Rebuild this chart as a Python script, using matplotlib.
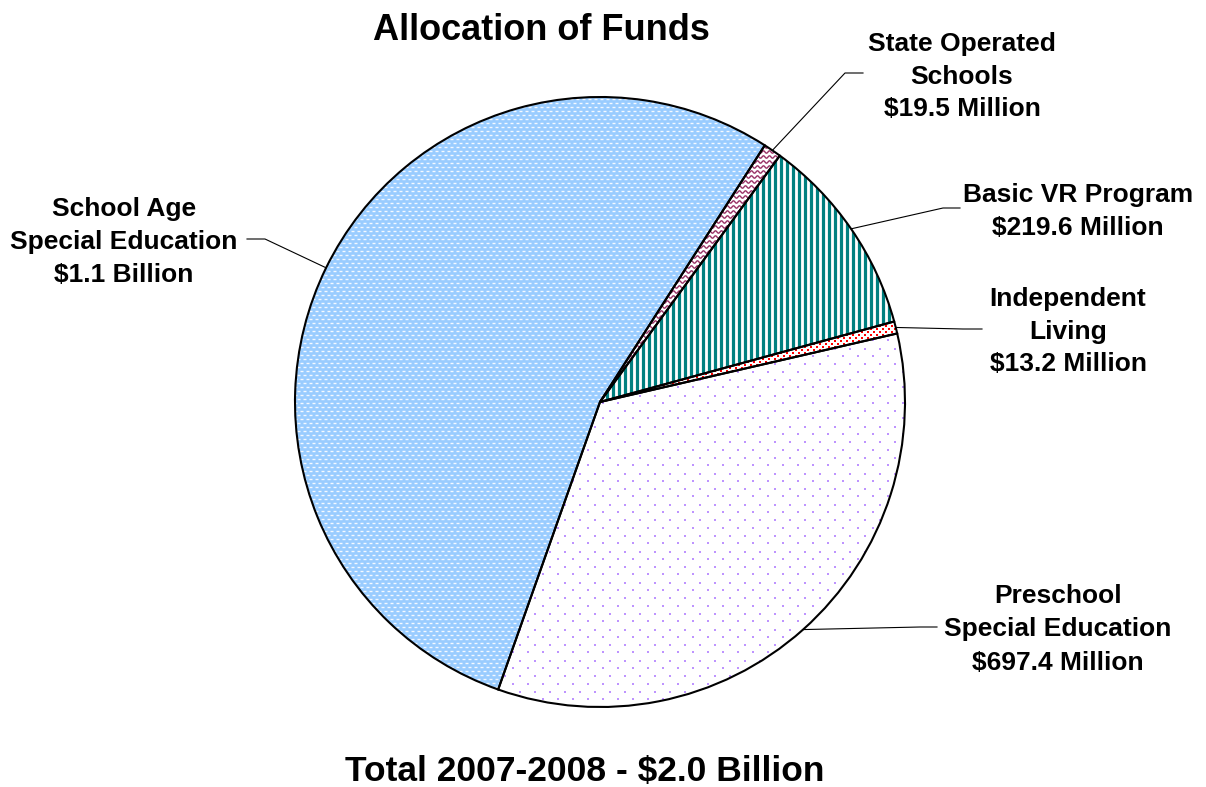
import numpy as np
import matplotlib
matplotlib.use('Agg')
import matplotlib.pyplot as plt
from matplotlib.patches import Wedge
from matplotlib.collections import LineCollection

W, H = 1206, 787

# funding per program, $ millions
categories = ['School Age Special Education', 'Preschool Special Education',
              'Independent Living', 'Basic VR Program', 'State Operated Schools']
amounts = [1100.0, 697.4, 13.2, 219.6, 19.5]
label_lines = [
    ['School Age', 'Special Education', '$1.1 Billion'],
    ['Preschool', 'Special Education', '$697.4 Million'],
    ['Independent', 'Living', '$13.2 Million'],
    ['Basic VR Program', '$219.6 Million'],
    ['State Operated', 'Schools', '$19.5 Million'],
]
title = 'Allocation of Funds'
total_text = 'Total 2007-2008 - $2.0 Billion'

base_colors = ['#99CCFF', 'white', 'white', 'white', 'white']

plt.rcParams['font.family'] = ['Liberation Sans', 'DejaVu Sans']

fig = plt.figure(figsize=(W / 100, H / 100), dpi=100)
ax = fig.add_axes([0, 0, 1, 1])

cx, cy, r = 600, H - 402, 305
wedges, _ = ax.pie(amounts, colors=base_colors, startangle=57.3, counterclock=True,
                   center=(cx, cy), radius=r, wedgeprops=dict(edgecolor='none', linewidth=0))
ax.set_xlim(0, W)
ax.set_ylim(0, H)
ax.set_aspect('equal')
ax.axis('off')


def grid(step_x, step_y, shift):
    rows = []
    for i, y in enumerate(np.arange(cy - r, cy + r + step_y, step_y)):
        xs = np.arange(cx - r + (shift if i % 2 else 0), cx + r + step_x, step_x)
        rows.append(np.column_stack([xs, np.full_like(xs, y)]))
    return np.vstack(rows)


# school age: white dashes on blue
pts = grid(6, 4, 3)
segs = np.stack([np.column_stack([pts[:, 0] - 1.5, pts[:, 1]]),
                 np.column_stack([pts[:, 0] + 1.5, pts[:, 1]])], axis=1)
lc = LineCollection(segs, colors='white', linewidths=1.0, alpha=0.9, zorder=2)
ax.add_collection(lc)
lc.set_clip_path(wedges[0])

# preschool: sparse lavender dots
pts = grid(15, 7.8, 7.5)
sc = ax.scatter(pts[:, 0], pts[:, 1], s=3, marker='s', color='#BE94FF', linewidths=0, zorder=2)
sc.set_clip_path(wedges[1])

# independent living: red squares
pts = grid(6, 3, 3)
sc = ax.scatter(pts[:, 0], pts[:, 1], s=4.5, marker='s', color='#FF0000', linewidths=0, zorder=2)
sc.set_clip_path(wedges[2])

# basic VR: teal vertical stripes
xs = np.arange(cx - r, cx + r, 6)
segs = [[(x, cy - r), (x, cy + r)] for x in xs]
lc = LineCollection(segs, colors='#008080', linewidths=2.3, zorder=2)
ax.add_collection(lc)
lc.set_clip_path(wedges[3])

# state operated: maroon waves
xw = np.linspace(cx - r, cx + r, 1200)
segs = [np.column_stack([xw, y0 + 1.2 * np.sin(2 * np.pi * xw / 6)])
        for y0 in np.arange(cy - r, cy + r, 5)]
lc = LineCollection(segs, colors='#993366', linewidths=1.0, zorder=2)
ax.add_collection(lc)
lc.set_clip_path(wedges[4])

for w in wedges:
    ax.add_patch(Wedge((cx, cy), r, w.theta1, w.theta2, fill=False,
                       edgecolor='black', linewidth=1.5, zorder=4))

# leader elbows and label placement (x, line centres from top)
elbows = [[(265, 239), (247, 239)],
          [(920, 627), (937, 627)],
          [(963, 329), (982, 329)],
          [(943, 208), (960, 208)],
          [(845, 73), (863, 73)]]
label_x = [124, 1058, 1068, 1078, 962]
label_y = [[207, 240, 273], [594, 627, 661], [297, 329.5, 362], [193, 226], [42, 74.5, 107]]

size = 19
half_cap = 0.497 * size
for w, elb, lx, ly, lines in zip(wedges, elbows, label_x, label_y, label_lines):
    mid = np.deg2rad((w.theta1 + w.theta2) / 2)
    px = [cx + r * np.cos(mid)] + [p[0] for p in elb]
    py = [cy + r * np.sin(mid)] + [H - p[1] for p in elb]
    ax.plot(px, py, color='black', linewidth=0.8, zorder=5)
    for s, yc in zip(lines, ly):
        ax.text(lx, H - (yc + half_cap), s, ha='center', va='baseline',
                fontsize=size, fontweight='bold')

ax.text(541, H - (27 + 0.497 * 26), title, ha='center', va='baseline',
        fontsize=26, fontweight='bold')
ax.text(585, H - (768 + 0.497 * 25.5), total_text, ha='center', va='baseline',
        fontsize=25.5, fontweight='bold')

fig.savefig('out.png', dpi=100)
